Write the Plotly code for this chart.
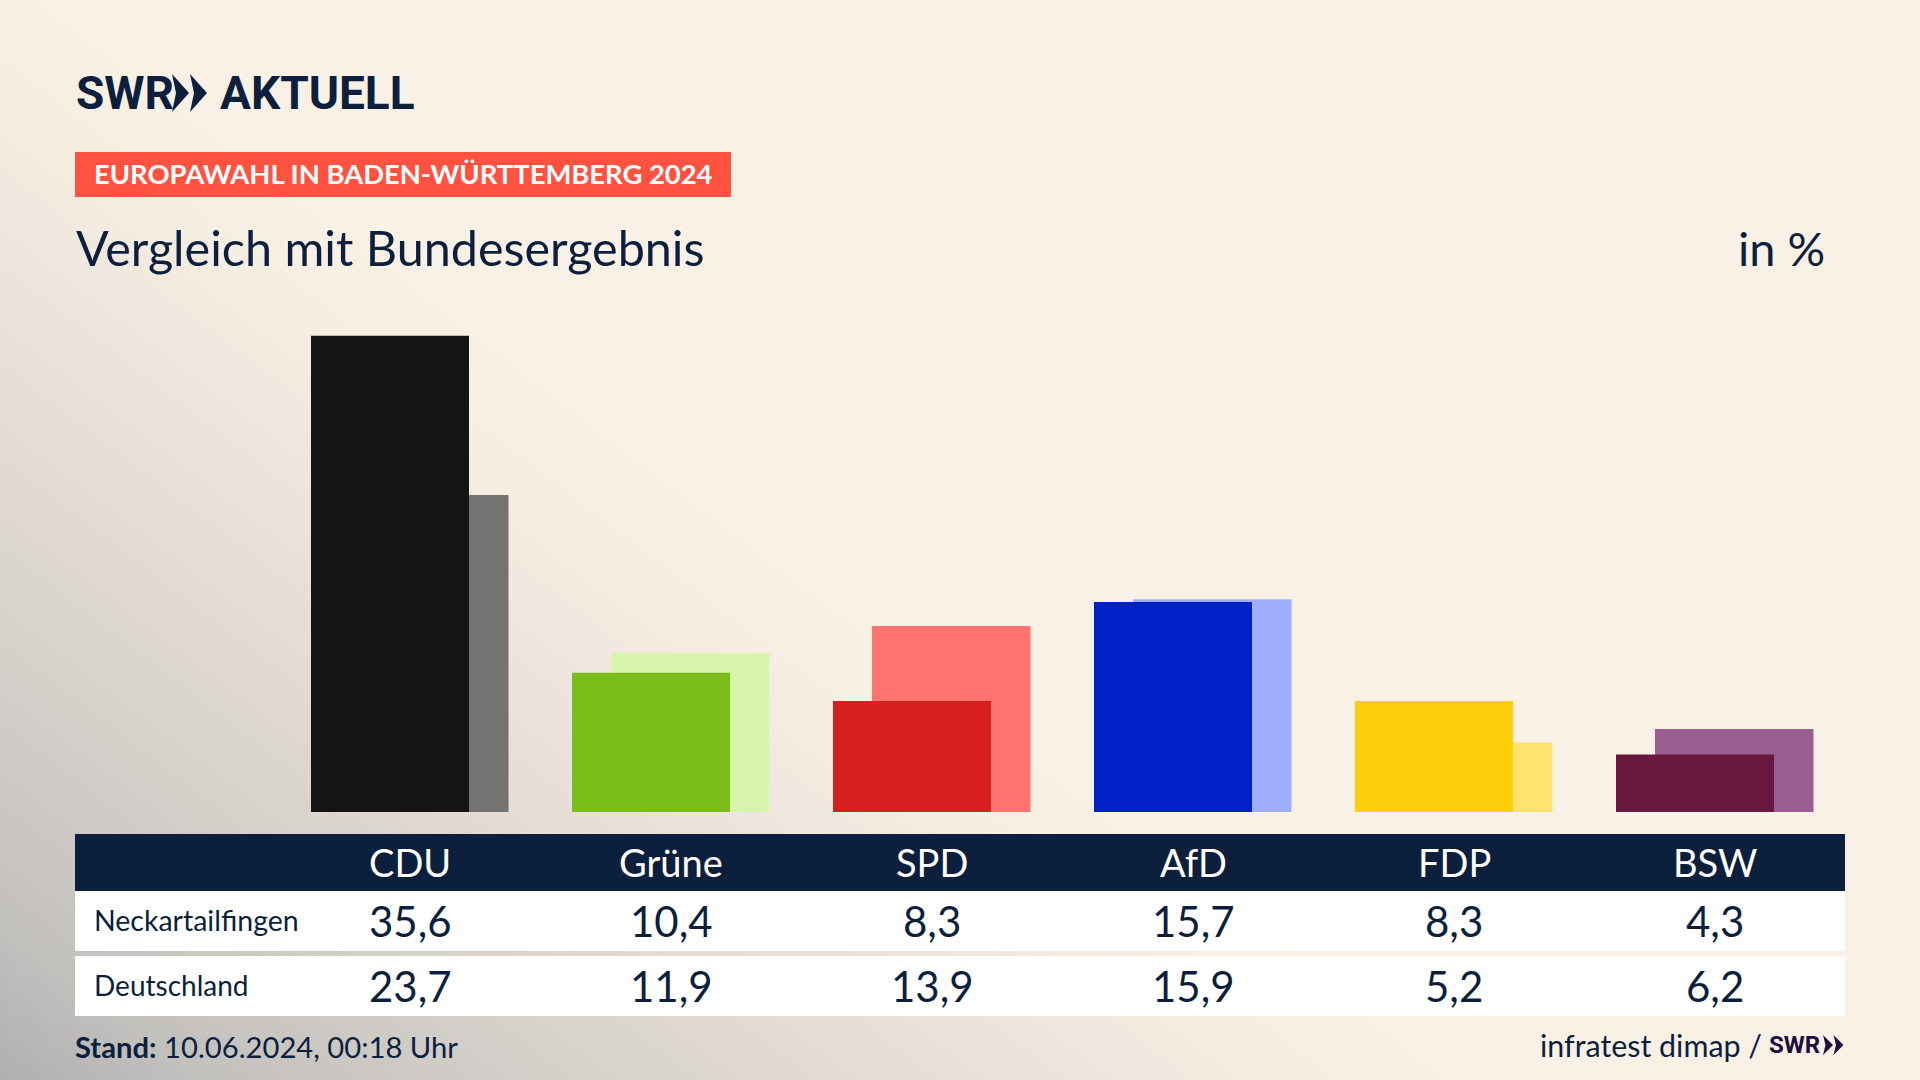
import plotly.graph_objects as go

W, H = 1920, 1080
NAVY = '#0c1f3d'
FONT = 'Lato'
LOGO_FONT = 'Roboto'

parties = ['CDU', 'Grüne', 'SPD', 'AfD', 'FDP', 'BSW']
neckartailfingen = [35.6, 10.4, 8.3, 15.7, 8.3, 4.3]
deutschland = [23.7, 11.9, 13.9, 15.9, 5.2, 6.2]
colors_front = ['#141414', '#7abd1a', '#d71f1d', '#0021c8', '#ffce0b', '#68193d']
colors_back = ['#757372', '#d7f5ac', '#ff746e', '#9faeff', '#ffe26f', '#9b5e93']
row_names = ['Neckartailfingen', 'Deutschland']

CAT_PX = 261  # pixels between two parties
BG = ('linear-gradient(37.4deg, #b0b0b0 0px, #c2c0bd 121px, #d1cec9 303px, #dbd6cf 429px, '
      '#e5ddd5 530px, #f0e8de 700px, #f8efe4 820px, #faf1e6 900px)')


def px(x):
    return x / W


def py(y):
    return 1 - y / H


def fmt(v):
    return f'{v:.1f}'.replace('.', ',')


def label(text, x, y, size, color=NAVY, anchor='left', family=FONT):
    fig.add_annotation(text=text, x=px(x), y=py(y), xref='paper', yref='paper', xanchor=anchor,
                       yanchor='middle', showarrow=False,
                       font=dict(family=family, size=size, color=color))


def cell(text, party, y, size, color=NAVY):
    fig.add_annotation(text=text, x=party, y=py(y), xref='x', yref='paper', xanchor='center',
                       yanchor='middle', showarrow=False,
                       font=dict(family=FONT, size=size, color=color))


def rect(x0, y0, x1, y1, color):
    fig.add_shape(type='rect', xref='paper', yref='paper', x0=px(x0), x1=px(x1), y0=py(y0), y1=py(y1),
                  fillcolor=color, line_width=0, layer='below')


def chevrons(x, top, bottom, width, notch, gap, color):
    mid = (top + bottom) / 2
    for i in range(2):
        x0 = x + i * gap
        path = (f'M {px(x0)} {py(top)} L {px(x0 + width)} {py(mid)} L {px(x0)} {py(bottom)} '
                f'L {px(x0 + notch)} {py(mid)} Z')
        fig.add_shape(type='path', xref='paper', yref='paper', path=path, fillcolor=color, line_width=0)


fig = go.Figure()
fig.add_trace(go.Bar(x=parties, y=deutschland, name='Deutschland', marker=dict(color=colors_back, line_width=0),
                     offset=-60 / CAT_PX, width=158.5 / CAT_PX))
fig.add_trace(go.Bar(x=parties, y=neckartailfingen, name='Neckartailfingen',
                     marker=dict(color=colors_front, line_width=0),
                     offset=-99 / CAT_PX, width=158 / CAT_PX))

# logo
label('<b>SWR</b>', 74, 93, 46, family=LOGO_FONT)
chevrons(172, 74, 112, 17, 4, 18, NAVY)
label('<b>AKTUELL</b>', 218, 93, 46, family=LOGO_FONT)

# header
rect(75, 152, 731, 197, '#ff5240')
label('<b>EUROPAWAHL IN BADEN-WÜRTTEMBERG 2024</b>', 92, 174, 27.4, color='white')
label('Vergleich mit Bundesergebnis', 74, 247, 48.5)
label('in %', 1827, 248, 47, anchor='right')

# table
rect(75, 834, 1845, 891, NAVY)
rect(75, 891, 1845, 951, 'white')
rect(75, 956, 1845, 1016, 'white')
for i, party in enumerate(parties):
    cell(party, party, 862, 38, color='white')
    cell(fmt(neckartailfingen[i]), party, 921, 42)
    cell(fmt(deutschland[i]), party, 986, 42)
label(row_names[0], 92, 920, 28.5)
label(row_names[1], 92, 985, 28)

# footer
label('<b>Stand:</b> 10.06.2024, 00:18 Uhr', 73, 1046, 29.2)
label('infratest dimap /', 1764, 1045, 30.4, anchor='right')
label('<b>SWR</b>', 1767, 1045, 24, color='#230d3e', family=LOGO_FONT)
chevrons(1823, 1035, 1055, 10, 2.5, 10.5, '#230d3e')

fig.update_layout(
    width=W, height=H,
    margin=dict(l=0, r=0, t=0, b=0),
    barmode='overlay',
    showlegend=False,
    paper_bgcolor='rgba(0,0,0,0)',
    plot_bgcolor='rgba(0,0,0,0)',
    xaxis=dict(domain=[px(75), px(1845)], range=[(75 - 410) / CAT_PX, (1845 - 410) / CAT_PX], visible=False,
               categoryorder='array', categoryarray=parties),
    yaxis=dict(domain=[py(812), py(300)], range=[0, 512 / 13.38], visible=False),
)

fig.write_html('out.html', config={'displayModeBar': False}, post_script=(
    "document.body.style.margin='0';"
    "document.documentElement.style.height='1080px';"
    "document.documentElement.style.overflow='hidden';"
    f"document.documentElement.style.background='{BG}';"
))
